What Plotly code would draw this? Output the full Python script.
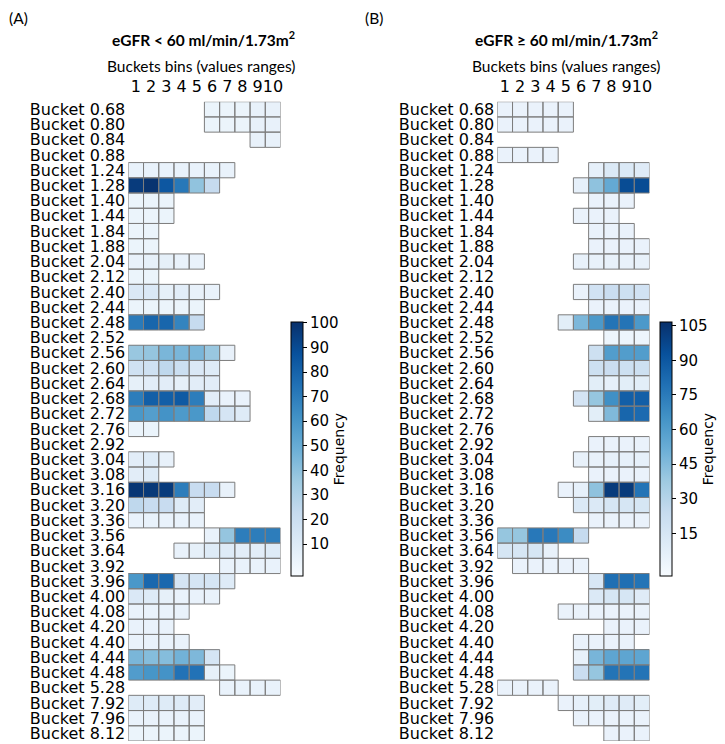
import plotly.graph_objects as go
from plotly.colors import sequential

# Filas (buckets) y columnas (bins)
buckets = ["0.68", "0.80", "0.84", "0.88", "1.24", "1.28", "1.40", "1.44", "1.84", "1.88",
           "2.04", "2.12", "2.40", "2.44", "2.48", "2.52", "2.56", "2.60", "2.64", "2.68",
           "2.72", "2.76", "2.92", "3.04", "3.08", "3.16", "3.20", "3.36", "3.56", "3.64",
           "3.92", "3.96", "4.00", "4.08", "4.20", "4.40", "4.44", "4.48", "5.28", "7.92",
           "7.96", "8.12"]
bins = list(range(1, 11))
row_labels = ["Bucket " + b for b in buckets]

_ = None
# (A) eGFR < 60
freq_a = [
    [_, _, _, _, _, 3, 3, 3, 5, 5],
    [_, _, _, _, _, 3, 3, 3, 5, 5],
    [_, _, _, _, _, _, _, _, 5, 5],
    [_, _, _, _, _, _, _, _, _, _],
    [4, 4, 4, 4, 4, 4, 4, _, _, _],
    [96, 99, 85, 72, 39, 23, _, _, _, _],
    [3, 3, 3, _, _, _, _, _, _, _],
    [3, 3, 3, _, _, _, _, _, _, _],
    [3, 3, _, _, _, _, _, _, _, _],
    [3, 3, _, _, _, _, _, _, _, _],
    [5, 6, 6, 4, 4, _, _, _, _, _],
    [3, 3, _, _, _, _, _, _, _, _],
    [12, 12, 6, 8, 5, 4, _, _, _, _],
    [3, 3, 3, 3, 3, _, _, _, _, _],
    [71, 79, 79, 67, 23, _, _, _, _, _],
    [_, _, _, _, _, _, _, _, _, _],
    [37, 38, 45, 45, 45, 37, 5, _, _, _],
    [18, 18, 25, 20, 12, 10, _, _, _, _],
    [6, 8, 8, 6, 8, 8, _, _, _, _],
    [70, 82, 82, 84, 70, 8, 4, 4, _, _],
    [59, 56, 61, 58, 59, 25, 15, 10, _, _],
    [3, 3, _, _, _, _, _, _, _, _],
    [_, _, _, _, _, _, _, _, _, _],
    [8, 10, 5, _, _, _, _, _, _, _],
    [8, 10, _, _, _, _, _, _, _, _],
    [98, 97, 96, 70, 22, 22, 5, _, _, _],
    [25, 22, 22, 10, 8, _, _, _, _, _],
    [4, 4, 4, 4, 4, _, _, _, _, _],
    [_, _, _, _, _, 4, 38, 70, 70, 70],
    [_, _, _, 4, 6, 10, 10, 8, 8, 10],
    [_, _, _, _, _, _, 4, 4, 4, 4],
    [59, 78, 78, 15, 15, 15, 10, _, _, _],
    [12, 10, 6, 4, 4, 4, _, _, _, _],
    [4, 4, 4, 4, _, _, _, _, _, _],
    [4, 4, 4, _, _, _, _, _, _, _],
    [4, 4, 4, 4, _, _, _, _, _, _],
    [45, 42, 42, 47, 44, 15, _, _, _, _],
    [57, 60, 61, 74, 74, 6, 3, _, _, _],
    [_, _, _, _, _, _, 4, 4, 4, 4],
    [10, 10, 10, 10, 8, _, _, _, _, _],
    [4, 4, 4, 4, 4, _, _, _, _, _],
    [3, 3, 3, 3, 3, _, _, _, _, _],
]
# (B) eGFR >= 60
freq_b = [
    [4, 4, 4, 4, 4, _, _, _, _, _],
    [4, 4, 4, 4, 4, _, _, _, _, _],
    [_, _, _, _, _, _, _, _, _, _],
    [4, 4, 4, 4, _, _, _, _, _, _],
    [_, _, _, _, _, _, 6, 12, 12, 10],
    [_, _, _, _, _, 6, 42, 54, 95, 95],
    [_, _, _, _, _, _, 4, 4, 4, _],
    [_, _, _, _, _, 4, 4, 4, _, _],
    [_, _, _, _, _, _, 4, 4, 4, _],
    [_, _, _, _, _, _, 4, 4, 4, 4],
    [_, _, _, _, _, 5, 5, 5, 5, 5],
    [_, _, _, _, _, _, _, _, _, _],
    [_, _, _, _, _, 4, 18, 22, 20, 18],
    [_, _, _, _, _, _, 4, 4, 4, 4],
    [_, _, _, _, 8, 47, 62, 78, 78, 62],
    [_, _, _, _, _, _, _, 2, 2, 2],
    [_, _, _, _, _, _, 20, 60, 60, 60],
    [_, _, _, _, _, _, 20, 22, 20, 20],
    [_, _, _, _, _, _, 8, 6, 8, 8],
    [_, _, _, _, _, 16, 40, 66, 87, 87],
    [_, _, _, _, _, _, 8, 46, 84, 82],
    [_, _, _, _, _, _, _, _, _, _],
    [_, _, _, _, _, _, 4, 4, 4, 4],
    [_, _, _, _, _, 5, 5, 6, 6, 6],
    [_, _, _, _, _, _, 4, 4, 4, 4],
    [_, _, _, _, 4, 6, 42, 102, 102, 78],
    [_, _, _, _, _, 12, 12, 15, 15, 15],
    [_, _, _, _, _, _, 4, 4, 4, 4],
    [40, 40, 76, 76, 68, 24, _, _, _, _],
    [15, 15, 15, 5, _, _, _, _, _, _],
    [_, 4, 4, 4, 4, 4, _, _, _, _],
    [_, _, _, _, _, _, 14, 80, 80, 78],
    [_, _, _, _, _, _, 12, 15, 15, 10],
    [_, _, _, _, 4, 4, 4, 4, 4, 4],
    [_, _, _, _, _, _, _, 4, 4, 4],
    [_, _, _, _, _, 4, 4, 4, 4, _],
    [_, _, _, _, _, 5, 48, 56, 56, 56],
    [_, _, _, _, _, 22, 40, 78, 78, 78],
    [4, 4, 4, 4, _, _, _, _, _, _],
    [_, _, _, _, 4, 6, 8, 10, 10, 8],
    [_, _, _, _, _, 4, 4, 4, 4, 4],
    [_, _, _, _, _, _, _, 4, 4, 4],
]

rango_a = (-3, 100.4)
rango_b = (-3.4, 106.6)
ticks_a = list(range(10, 101, 10))
ticks_b = list(range(15, 106, 15))

FONT_TICK = "DejaVu Sans"
FONT_TXT = "Lato"
BORDE = "rgb(125,125,125)"

# la página deja 8 px de margen en el body: la figura ocupa el resto de la ventana
OFF = 8
W, H = 725 - OFF, 744 - OFF


def fx(px_):
    return (px_ - OFF) / W


def fy(py_):
    return 1 - (py_ - OFF) / H


fig = go.Figure()


def bordes(z):
    # contorno de cada celda con dato
    xs, ys = [], []
    for r, fila in enumerate(z):
        for c, v in enumerate(fila):
            if v is None:
                continue
            x0, x1 = bins[c] - 0.5, bins[c] + 0.5
            y0, y1 = r - 0.5, r + 0.5
            xs += [x0, x1, x1, x0, x0, None]
            ys += [y0, y0, y1, y1, y0, None]
    return xs, ys


paneles = [
    (freq_a, rango_a, ticks_a, "x", "y", fx(291)),
    (freq_b, rango_b, ticks_b, "x2", "y2", fx(660)),
]
for z, rng, tv, xa, ya, cbx in paneles:
    fig.add_trace(go.Heatmap(
        z=z, x=bins, y=list(range(len(buckets))),
        colorscale=sequential.Blues, zmin=rng[0], zmax=rng[1],
        xaxis=xa, yaxis=ya, hoverongaps=False,
        colorbar=dict(
            x=cbx, xanchor="left", xpad=0, y=fy(449), yanchor="middle", ypad=0,
            len=254 / H, thickness=12, outlinecolor="black", outlinewidth=1,
            tickvals=tv, ticks="outside", ticklen=4, tickcolor="black",
            tickfont=dict(family=FONT_TICK, size=15, color="black"),
            title=dict(text="Frequency", side="right",
                       font=dict(family=FONT_TICK, size=14, color="black")),
        ),
    ))
    bx, by = bordes(z)
    fig.add_trace(go.Scatter(x=bx, y=by, mode="lines", xaxis=xa, yaxis=ya,
                             line=dict(color=BORDE, width=1), hoverinfo="skip",
                             showlegend=False))

eje_x = dict(tickvals=bins, ticktext=[str(b) for b in bins], side="top",
             range=[0.5, 10.5], showgrid=False, zeroline=False, showline=False,
             ticks="", ticklabelstandoff=6, tickangle=0, automargin=False,
             tickfont=dict(family=FONT_TICK, size=16, color="black"))
eje_y = dict(tickvals=list(range(len(buckets))), ticktext=row_labels,
             range=[len(buckets) - 0.5, -0.5], showgrid=False, zeroline=False,
             showline=False, ticks="", ticklabelstandoff=2, automargin=False,
             tickfont=dict(family=FONT_TICK, size=16, color="black"))

fig.update_layout(
    width=W, height=H,
    margin=dict(l=0, r=0, t=0, b=0, autoexpand=False),
    paper_bgcolor="white", plot_bgcolor="white",
    showlegend=False,
    xaxis=dict(eje_x, domain=[fx(128.3), fx(280.5)], anchor="y"),
    yaxis=dict(eje_y, domain=[fy(741), fy(101.7)], anchor="x"),
    xaxis2=dict(eje_x, domain=[fx(497.3), fx(649.5)], anchor="y2"),
    yaxis2=dict(eje_y, domain=[fy(741), fy(101.7)], anchor="x2"),
)

textos = [
    ("(A)", 8, 8, "left", "top"),
    ("(B)", 364, 8, "left", "top"),
    ("<b>eGFR &lt; 60 ml/min/1.73m<sup>2</sup></b>", 203, 38, "center", "middle"),
    ("<b>eGFR ≥ 60 ml/min/1.73m<sup>2</sup></b>", 566, 38, "center", "middle"),
    ("Buckets bins (values ranges)", 201, 66, "center", "middle"),
    ("Buckets bins (values ranges)", 566, 66, "center", "middle"),
]
for t, px_, py_, anc, vanc in textos:
    fig.add_annotation(text=t, x=fx(px_), y=fy(py_), xref="paper", yref="paper",
                       xanchor=anc, yanchor=vanc, showarrow=False, borderpad=0,
                       font=dict(family=FONT_TXT, size=15.5, color="black"))

fig.write_html("out.html")
